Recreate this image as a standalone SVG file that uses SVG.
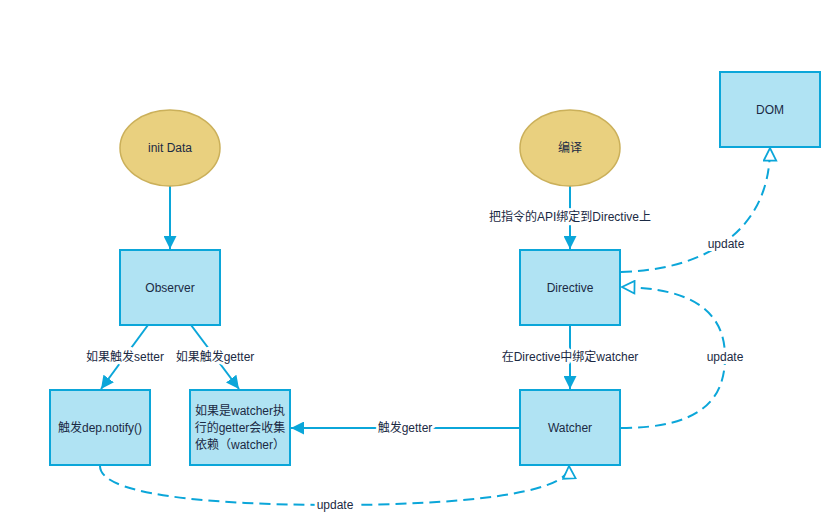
<svg xmlns="http://www.w3.org/2000/svg" width="840" height="531" viewBox="0 0 840 531">
<style>
.box{fill:#b0e3f3;stroke:#0ba6d9;stroke-width:2}
.ell{fill:#e9d07f;stroke:#cbb05a;stroke-width:1.5}
.t{font-family:"Liberation Sans","Noto Sans CJK SC",sans-serif;font-size:12px;fill:#1b2a44;text-anchor:middle;dominant-baseline:central}
.lbl{paint-order:stroke;stroke:#fff;stroke-width:6px;stroke-linejoin:round}
.ln{fill:none;stroke:#0ba6d9;stroke-width:2}
.dash{stroke-dasharray:11,6}
</style>
<defs>
<marker id="fa" viewBox="0 0 10 10" refX="10" refY="5" markerWidth="6.5" markerHeight="6.5" orient="auto" markerUnits="strokeWidth">
<path d="M0,0 L10,5 L0,10 Z" fill="#0ba6d9"/>
</marker>
<marker id="oa" viewBox="0 0 12 12" refX="11" refY="6" markerWidth="7.5" markerHeight="7.5" orient="auto" markerUnits="strokeWidth">
<path d="M1,1 L11,6 L1,11 Z" fill="#fff" stroke="#0ba6d9" stroke-width="1.4"/>
</marker>
</defs>
<g id="connectors">
<path class="ln" d="M170,186 L170,249" marker-end="url(#fa)"/>
<path class="ln" d="M570,186 L570,249" marker-end="url(#fa)"/>
<path class="ln" d="M570,325 L570,389" marker-end="url(#fa)"/>
<path class="ln" d="M148,325 L101,389" marker-end="url(#fa)"/>
<path class="ln" d="M191,325 L239,389" marker-end="url(#fa)"/>
<path class="ln" d="M520,428 L291,428" marker-end="url(#fa)"/>
<path class="ln dash" d="M621,272 C700,270 770,235 770,148" marker-end="url(#oa)"/>
<path class="ln dash" d="M621,428 C700,428 725,400 725,357 C725,310 690,288 622,287" marker-end="url(#oa)"/>
<path class="ln dash" d="M100,466 C100,500 250,505 335,505 C450,505 570,495 569,466" marker-end="url(#oa)"/>
<text class="t lbl" x="570" y="217">把指令的API绑定到Directive上</text>
<text class="t lbl" x="570" y="357">在Directive中绑定watcher</text>
<text class="t lbl" x="125" y="357">如果触发setter</text>
<text class="t lbl" x="215" y="357">如果触发getter</text>
<text class="t lbl" x="405" y="428">触发getter</text>
<text class="t lbl" x="726" y="244">update</text>
<text class="t lbl" x="725" y="357">update</text>
<text class="t lbl" x="335" y="505">update</text>
</g>
<g id="initData"><ellipse class="ell" cx="170" cy="148" rx="50" ry="38"/><text class="t" x="170" y="148">init Data</text></g>
<g id="compile"><ellipse class="ell" cx="570" cy="148" rx="50" ry="38"/><text class="t" x="570" y="148">编译</text></g>
<g id="observer"><rect class="box" x="120" y="250" width="100" height="75"/><text class="t" x="170" y="288">Observer</text></g>
<g id="directive"><rect class="box" x="520" y="250" width="100" height="75"/><text class="t" x="570" y="288">Directive</text></g>
<g id="watcher"><rect class="box" x="520" y="390" width="100" height="75"/><text class="t" x="570" y="428">Watcher</text></g>
<g id="notify"><rect class="box" x="50" y="390" width="100" height="75"/><text class="t" x="100" y="428">触发dep.notify()</text></g>
<g id="collect"><rect class="box" x="190" y="390" width="100" height="75"/>
<text class="t" x="240" y="411">如果是watcher执</text>
<text class="t" x="240" y="428">行的getter会收集</text>
<text class="t" x="240" y="445">依赖（watcher）</text></g>
<g id="dom"><rect class="box" x="720" y="72" width="100" height="75"/><text class="t" x="770" y="110">DOM</text></g>
</svg>
